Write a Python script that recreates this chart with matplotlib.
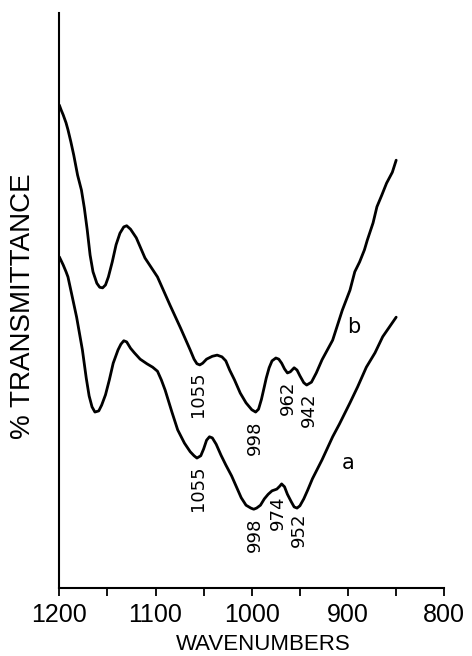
import matplotlib
matplotlib.use("Agg")
import matplotlib.pyplot as plt
from matplotlib.ticker import MultipleLocator

# Curve b (upper spectrum)
wn_b = [1200, 1198, 1196, 1193, 1191, 1188, 1185, 1181, 1177, 1174, 1171, 1168,
        1165, 1161, 1158, 1155, 1152, 1149, 1145, 1141, 1137, 1133, 1130, 1126,
        1120, 1111, 1098, 1085, 1074, 1064, 1060, 1057, 1054, 1051, 1047, 1041,
        1036, 1031, 1027, 1023, 1018, 1012, 1006, 1000, 996, 993, 990, 987, 985,
        982, 979, 975, 972, 969, 966, 963, 960, 956, 953, 950, 946, 943, 938,
        933, 927, 916, 906, 898, 893, 888, 883, 880, 874, 870, 865, 860, 854, 850]
t_b = [84.0, 83.1, 82.3, 80.9, 79.7, 77.6, 75.3, 71.8, 69.2, 66.1, 62.3, 57.9,
       55.0, 53.0, 52.3, 52.2, 52.7, 54.1, 56.7, 59.7, 61.7, 62.8, 63.0, 62.4,
       60.9, 57.4, 54.1, 49.2, 45.2, 41.4, 39.8, 39.0, 38.8, 39.1, 39.8, 40.3,
       40.5, 40.2, 39.5, 37.9, 36.2, 33.9, 32.2, 31.0, 30.6, 31.1, 32.8, 35.0, 36.5,
       38.3, 39.5, 40.0, 39.8, 39.1, 38.1, 37.4, 37.6, 38.3, 37.9, 36.9, 35.7,
       35.3, 35.8, 37.4, 39.7, 43.1, 48.3, 51.8, 55.0, 56.7, 58.8, 60.5, 63.5,
       66.3, 68.3, 70.4, 72.3, 74.4]

# Curve a (lower spectrum)
wn_a = [1200, 1198, 1196, 1193, 1191, 1187, 1182, 1176, 1172, 1169, 1166, 1163,
        1159, 1156, 1152, 1148, 1144, 1139, 1136, 1133, 1130, 1126, 1122, 1116,
        1109, 1103, 1098, 1094, 1090, 1083, 1077, 1070, 1064, 1060, 1057, 1053,
        1050, 1047, 1044, 1041, 1037, 1032, 1027, 1021, 1016, 1011, 1006, 1001,
        998, 995, 991, 987, 983, 979, 974, 971, 969, 966, 963, 959, 956, 953,
        950, 946, 942, 937, 927, 916, 909, 898, 890, 881, 872, 864, 857, 850]
t_a = [57.6, 56.9, 56.2, 55.0, 54.1, 51.0, 47.1, 41.4, 36.5, 33.4, 31.5, 30.6,
       30.8, 31.8, 33.6, 36.2, 39.1, 41.4, 42.4, 43.0, 42.8, 41.7, 40.9, 39.8,
       39.0, 38.4, 37.7, 36.2, 34.4, 30.6, 27.5, 25.2, 23.7, 23.0, 22.6, 23.0,
       24.2, 25.7, 26.3, 26.1, 25.0, 23.1, 21.4, 19.5, 17.6, 15.7, 14.4, 13.9,
       13.7, 13.9, 14.4, 15.5, 16.3, 16.9, 17.2, 17.7, 18.1, 17.6, 16.3, 15.0,
       14.1, 13.9, 14.3, 15.5, 17.0, 19.0, 22.3, 26.3, 28.5, 32.2, 35.0, 38.4,
       40.9, 43.7, 45.4, 47.1]

# Peak annotations: (text, wavenumber, transmittance)
peak_labels = [("1055", 1056, 33.7), ("998", 997, 26.1), ("962", 963, 33.0),
               ("942", 941, 31.0), ("1055", 1056, 17.4), ("998", 997, 9.2),
               ("974", 973, 13.0), ("952", 951, 10.1)]
curve_labels = [("b", 894, 45.4), ("a", 900, 21.7)]

x_ticks = [1200, 1100, 1000, 900, 800]

fig = plt.figure(figsize=(4.72, 6.56), dpi=100)
ax = fig.add_axes([59.3 / 472, 68 / 656, (444.3 - 59.3) / 472, 575 / 656])

ax.plot(wn_a, t_a, color="black", lw=2.0, solid_joinstyle="round", solid_capstyle="round")
ax.plot(wn_b, t_b, color="black", lw=2.0, solid_joinstyle="round", solid_capstyle="round")

for txt, x, y in peak_labels:
    ax.text(x, y, txt, rotation=90, ha="center", va="center", fontsize=13,
            family="DejaVu Sans")
for txt, x, y in curve_labels:
    ax.text(x, y, txt, ha="center", va="center", fontsize=15, family="DejaVu Sans")

ax.set_xlim(1200, 800)
ax.set_ylim(0, 100)
ax.set_xticks(x_ticks)
ax.set_xticklabels([str(v) for v in x_ticks], family="Liberation Sans", fontsize=18)
ax.xaxis.set_minor_locator(MultipleLocator(50))
ax.tick_params(axis="x", which="both", direction="out", length=5.5, width=1.3, pad=5)
ax.set_yticks([])
ax.spines["top"].set_visible(False)
ax.spines["right"].set_visible(False)
ax.spines["left"].set_linewidth(1.5)
ax.spines["bottom"].set_linewidth(1.5)

fig.text(263 / 472, 1 - 645 / 656, "WAVENUMBERS", ha="center", va="center",
         family="Liberation Sans", fontsize=16)
fig.text(23 / 472, 1 - 306 / 656, "% TRANSMITTANCE", ha="center", va="center",
         rotation=90, family="Liberation Sans", fontsize=20)

fig.savefig("out.png", dpi=100)
